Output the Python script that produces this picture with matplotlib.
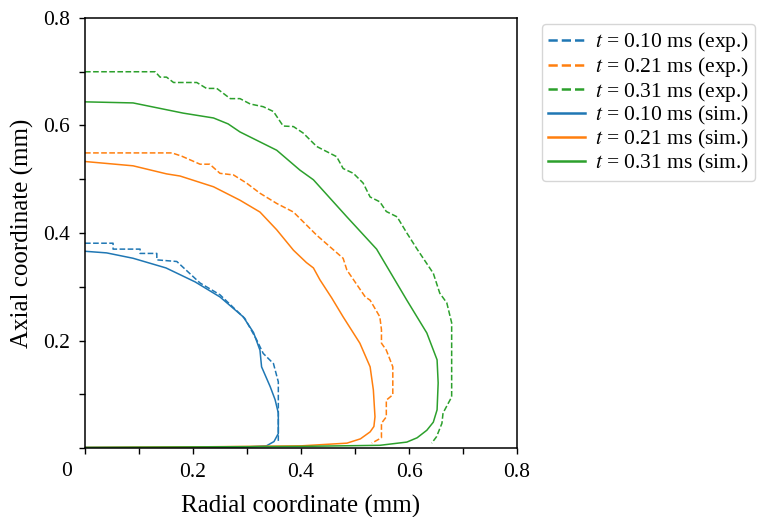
import numpy as np
import matplotlib
matplotlib.use('Agg')
import matplotlib.pyplot as plt
from matplotlib.lines import Line2D

plt.rcParams['font.family'] = ['Liberation Serif', 'DejaVu Serif']
plt.rcParams['mathtext.fontset'] = 'stix'

# valeurs (mm)
blue_exp_r = [0, 0.052, 0.052, 0.102, 0.102, 0.133, 0.133, 0.170, 0.213, 0.250, 0.296, 0.318, 0.330, 0.349, 0.358, 0.358]
blue_exp_z = [0.381, 0.381, 0.370, 0.370, 0.362, 0.362, 0.350, 0.347, 0.307, 0.285, 0.241, 0.201, 0.176, 0.157, 0.123, 0.009]

orange_exp_r = [0, 0.161, 0.179, 0.213, 0.231, 0.25, 0.275, 0.299, 0.324, 0.355, 0.386, 0.404, 0.429, 0.454, 0.478,
                0.485, 0.5, 0.519, 0.528, 0.546, 0.549, 0.549, 0.558, 0.570, 0.570, 0.558, 0.558, 0.549, 0.549, 0.531]
orange_exp_z = [0.549, 0.549, 0.543, 0.528, 0.528, 0.511, 0.508, 0.493, 0.474, 0.455, 0.439, 0.421, 0.396, 0.374, 0.353,
                0.331, 0.309, 0.281, 0.275, 0.244, 0.220, 0.195, 0.182, 0.151, 0.099, 0.089, 0.058, 0.046, 0.019, 0.009]

green_exp_r = [0, 0.130, 0.139, 0.151, 0.164, 0.207, 0.225, 0.244, 0.269, 0.287, 0.306, 0.330, 0.349, 0.367, 0.386,
               0.404, 0.429, 0.466, 0.478, 0.497, 0.515, 0.528, 0.546, 0.558, 0.578, 0.596, 0.615, 0.645, 0.657,
               0.670, 0.679, 0.679, 0.663, 0.661, 0.651, 0.642]
green_exp_z = [0.700, 0.700, 0.690, 0.690, 0.680, 0.680, 0.669, 0.669, 0.650, 0.650, 0.640, 0.635, 0.626, 0.599, 0.598,
               0.586, 0.561, 0.542, 0.520, 0.511, 0.493, 0.467, 0.458, 0.440, 0.430, 0.400, 0.370, 0.325, 0.288,
               0.270, 0.233, 0.095, 0.065, 0.046, 0.021, 0.009]

blue_sim_r = [0, 0.04, 0.089, 0.15, 0.204, 0.25, 0.293, 0.312, 0.324, 0.327, 0.343, 0.352, 0.358, 0.358, 0.350,
              0.336, 0.30, 0.2, 0.1, 0]
blue_sim_z = [0.366, 0.363, 0.353, 0.335, 0.309, 0.281, 0.244, 0.215, 0.182, 0.151, 0.114, 0.090, 0.065, 0.027,
              0.012, 0.004, 0.002, 0.001, 0.001, 0.001]

orange_sim_r = [0, 0.089, 0.151, 0.176, 0.238, 0.287, 0.324, 0.355, 0.386, 0.410, 0.423, 0.435, 0.457, 0.478, 0.509,
                0.528, 0.534, 0.537, 0.535, 0.528, 0.510, 0.485, 0.40, 0.2, 0]
orange_sim_z = [0.533, 0.525, 0.510, 0.506, 0.486, 0.461, 0.439, 0.406, 0.368, 0.345, 0.335, 0.313, 0.279, 0.244,
                0.195, 0.151, 0.108, 0.058, 0.040, 0.030, 0.017, 0.009, 0.004, 0.002, 0.001]

green_sim_r = [0, 0.089, 0.182, 0.238, 0.265, 0.287, 0.355, 0.398, 0.423, 0.485, 0.540, 0.596, 0.633, 0.652, 0.654,
               0.652, 0.645, 0.633, 0.615, 0.596, 0.546, 0.4, 0.2, 0]
green_sim_z = [0.644, 0.642, 0.623, 0.614, 0.603, 0.588, 0.554, 0.517, 0.499, 0.430, 0.370, 0.275, 0.214, 0.164,
               0.121, 0.071, 0.048, 0.033, 0.019, 0.011, 0.005, 0.003, 0.002, 0.001]

temps = ['0.10', '0.21', '0.31']
couleurs = ['tab:blue', 'tab:orange', 'tab:green']

fig = plt.figure(figsize=(7.59, 5.17), dpi=100)
ax = fig.add_axes([85/759, 1 - 448/517, 432/759, 430/517])

exp = [(blue_exp_r, blue_exp_z), (orange_exp_r, orange_exp_z), (green_exp_r, green_exp_z)]
sim = [(blue_sim_r, blue_sim_z), (orange_sim_r, orange_sim_z), (green_sim_r, green_sim_z)]

for (r, z), c in zip(exp, couleurs):
    ax.plot(r, z, '--', color=c, lw=1.1)
for (r, z), c in zip(sim, couleurs):
    ax.plot(r, z, '-', color=c, lw=1.1)

ax.set_xlim(0, 0.8)
ax.set_ylim(0, 0.8)
ax.set_xticks(np.arange(0, 0.81, 0.1))
ax.set_xticklabels(['', '', '0.2', '', '0.4', '', '0.6', '', '0.8'])
ax.set_yticks(np.arange(0, 0.81, 0.1))
ax.set_yticklabels(['', '', '0.2', '', '0.4', '', '0.6', '', '0.8'])
ax.tick_params(direction='out', length=4, width=1, labelsize=15.5, pad=7)
ax.text(-0.042, -0.055, '0', transform=ax.transAxes, ha='center', va='center', fontsize=15.5)
for s in ax.spines.values():
    s.set_linewidth(1.1)

ax.set_xlabel('Radial coordinate (mm)', fontsize=18, labelpad=9)
ax.set_ylabel('Axial coordinate (mm)', fontsize=18, labelpad=6)

handles = []
labels = []
for t, c in zip(temps, couleurs):
    handles.append(Line2D([], [], ls='--', color=c, lw=1.8))
    labels.append(r'$t$ = ' + t + ' ms (exp.)')
for t, c in zip(temps, couleurs):
    handles.append(Line2D([], [], ls='-', color=c, lw=1.8))
    labels.append(r'$t$ = ' + t + ' ms (sim.)')
fig.legend(handles, labels, loc='upper left', bbox_to_anchor=(542/759, 1 - 24/517),
           fontsize=15.5, borderaxespad=0, labelspacing=0.03, handlelength=1.7, handletextpad=0.45,
           borderpad=0.3)

plt.savefig('out.png', dpi=100)
